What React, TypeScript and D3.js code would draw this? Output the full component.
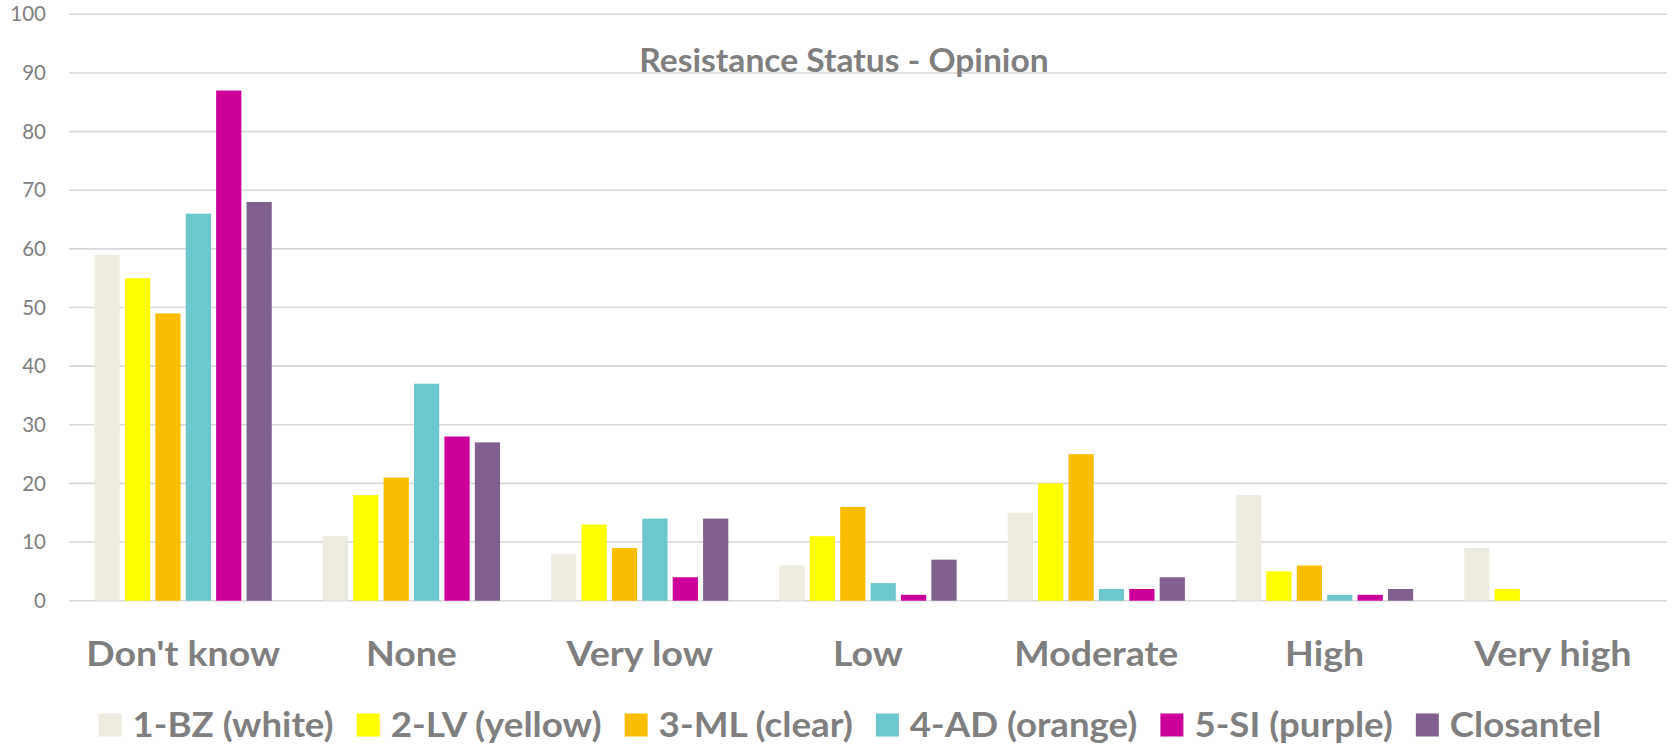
import React, { useMemo } from "react";
import * as d3 from "d3";

const categories = ["Don't know", "None", "Very low", "Low", "Moderate", "High", "Very high"];
const seriesNames = ["1-BZ (white)", "2-LV (yellow)", "3-ML (clear)", "4-AD (orange)", "5-SI (purple)", "Closantel"];
const bzValues = [59, 11, 8, 6, 15, 18, 9];
const lvValues = [55, 18, 13, 11, 20, 5, 2];
const mlValues = [49, 21, 9, 16, 25, 6, 0];
const adValues = [66, 37, 14, 3, 2, 1, 0];
const siValues = [87, 28, 4, 1, 2, 1, 0];
const closantelValues = [68, 27, 14, 7, 4, 2, 0];
const yTicks = [0, 10, 20, 30, 40, 50, 60, 70, 80, 90, 100];
const title = "Resistance Status - Opinion";

const seriesValues = [bzValues, lvValues, mlValues, adValues, siValues, closantelValues];
const colors = ["#EEECE1", "#FFFF00", "#FABE00", "#6CC8CC", "#CC0099", "#80608E"];

const W = 1673;
const H = 745;
const FONT = "Lato, 'Open Sans', 'DejaVu Sans', sans-serif";
const TEXT = "#7F7F7F";

function measure(text: string, font: string): number {
  if (typeof document === "undefined") return text.length * 18;
  const c = document.createElement("canvas");
  const ctx = c.getContext("2d");
  if (!ctx) return text.length * 18;
  ctx.font = font;
  return ctx.measureText(text).width;
}

export default function App() {
  const left = 69;
  const right = 1667;
  const top = 14.3;
  const bottom = 600.7;

  const x0 = d3.scaleBand<string>().domain(categories).range([left, right]).paddingInner(0).paddingOuter(0);
  const x1 = d3
    .scaleBand<string>()
    .domain(seriesNames)
    .range([0, x0.bandwidth()])
    .paddingInner(0.17)
    .paddingOuter(0.84);
  const y = d3.scaleLinear().domain([0, 100]).range([bottom, top]);

  const legendFontSize = 34;
  const legendFont = `bold ${legendFontSize}px ${FONT}`;
  const catFontSize = 35;
  const catFont = `bold ${catFontSize}px ${FONT}`;
  const titleFontSize = 32;
  const titleFont = `bold ${titleFontSize}px ${FONT}`;
  const swatch = 23;
  const gapSwatchText = 11;
  const gapItems = 23;
  const legendStretch = 1.077;
  const catStretch = 1.07;
  const titleStretch = 1.05;

  const legendItems = useMemo(() => {
    const widths = seriesNames.map((s) => measure(s, legendFont) * legendStretch);
    const total =
      widths.reduce((a, b) => a + b, 0) +
      seriesNames.length * (swatch + gapSwatchText) +
      (seriesNames.length - 1) * gapItems;
    let x = 850 - total / 2;
    return seriesNames.map((s, i) => {
      const item = { name: s, x, w: widths[i], color: colors[i] };
      x += swatch + gapSwatchText + widths[i] + gapItems;
      return item;
    });
  }, [legendFont]);

  const catWidths = useMemo(() => categories.map((c) => measure(c, catFont) * catStretch), [catFont]);
  const titleWidth = useMemo(() => measure(title, titleFont) * titleStretch, [titleFont]);

  return (
    <div style={{ position: "fixed", left: 0, top: 0, width: W, height: H, background: "#fff" }}>
      <svg width={W} height={H} viewBox={`0 0 ${W} ${H}`} style={{ display: "block" }}>
        <rect x={0} y={0} width={W} height={H} fill="#fff" />
        {yTicks.map((t) => (
          <line
            key={`g${t}`}
            x1={left}
            x2={right}
            y1={y(t)}
            y2={y(t)}
            stroke="#D9D9D9"
            strokeWidth={1.6}
          />
        ))}
        {yTicks.map((t) => (
          <text
            key={`t${t}`}
            x={46}
            y={y(t)}
            dy="0.35em"
            textAnchor="end"
            fontFamily={FONT}
            fontSize={20.5}
            fill={TEXT}
          >
            {t}
          </text>
        ))}
        <text
          x={844}
          y={71.5}
          textAnchor="middle"
          fontFamily={FONT}
          fontWeight="bold"
          fontSize={titleFontSize}
          fill={TEXT}
          textLength={titleWidth}
          lengthAdjust="spacingAndGlyphs"
        >
          {title}
        </text>
        {categories.map((c, ci) => (
          <g key={c} transform={`translate(${x0(c)},0)`}>
            {seriesNames.map((s, si) => {
              const v = seriesValues[si][ci];
              if (!v) return null;
              return (
                <rect
                  key={s}
                  x={x1(s)}
                  y={y(v)}
                  width={x1.bandwidth()}
                  height={y(0) - y(v)}
                  fill={colors[si]}
                />
              );
            })}
          </g>
        ))}
        {categories.map((c, ci) => (
          <text
            key={`c${c}`}
            x={(x0(c) as number) + x0.bandwidth() / 2}
            y={666}
            textAnchor="middle"
            fontFamily={FONT}
            fontWeight="bold"
            fontSize={catFontSize}
            fill={TEXT}
            textLength={catWidths[ci]}
            lengthAdjust="spacingAndGlyphs"
          >
            {c}
          </text>
        ))}
        {legendItems.map((it) => (
          <g key={`l${it.name}`}>
            <rect x={it.x} y={713.5} width={swatch} height={swatch} fill={it.color} />
            <text
              x={it.x + swatch + gapSwatchText}
              y={736.5}
              fontFamily={FONT}
              fontWeight="bold"
              fontSize={legendFontSize}
              fill={TEXT}
              textLength={it.w}
              lengthAdjust="spacingAndGlyphs"
            >
              {it.name}
            </text>
          </g>
        ))}
      </svg>
    </div>
  );
}
